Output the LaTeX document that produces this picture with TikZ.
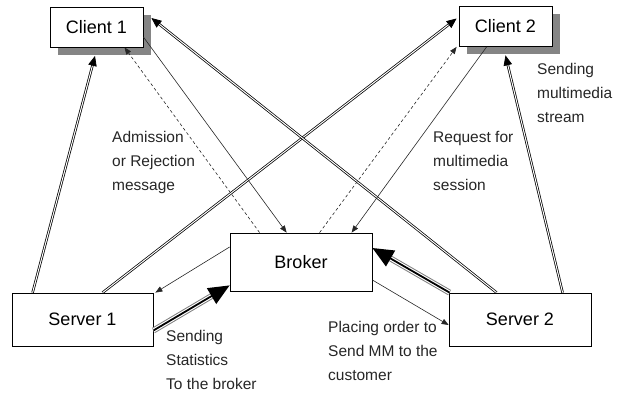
\documentclass[tikz,border=0pt]{standalone}
\usepackage{fontspec}
\setmainfont{Liberation Sans}
\usetikzlibrary{arrows.meta,shadows}

\begin{document}
\begin{tikzpicture}[x=1pt,y=-1pt,
  box/.style={draw=black, line width=0.8pt, fill=white, inner sep=0pt,
    font=\fontsize{18}{20}\selectfont},
  clientbox/.style={box, minimum width=93pt, minimum height=40pt,
    drop shadow={shadow xshift=7.5pt, shadow yshift=-7.5pt, fill=black!48, opacity=1}},
  serverbox/.style={box, minimum width=141pt, minimum height=53pt},
  lbl/.style={anchor=north west, inner sep=0pt, align=left, text=black!85,
    font=\fontsize{15.5}{24}\selectfont},
  dbl/.style={draw=black, double=white, double distance=1pt, line width=0.75pt,
    -{Triangle[length=10pt,width=8.5pt]}},
  thinarrow/.style={draw=black!85, line width=0.6pt, -{Triangle[length=7pt,width=5.5pt]}},
  dashedarrow/.style={thinarrow, dash pattern=on 3pt off 2.5pt},
  heavy/.style={draw=black, line width=1.8pt, -{Triangle[length=21pt,width=18pt]},
    preaction={draw, black!50, line width=6pt, shorten >=14pt, -},
    preaction={draw, white, line width=4pt, shorten >=14pt, -}}
]
\useasboundingbox (0,0) rectangle (625,394);

% boxes
\node[clientbox] (c1) at (96.5,27) {Client 1};
\node[clientbox] (c2) at (505.5,26.5) {Client 2};
\node[box, minimum width=142pt, minimum height=58pt] (br) at (301,262) {Broker};
\node[serverbox] (s1) at (82.5,319.5) {Server 1};
\node[serverbox, minimum width=142pt] (s2) at (520,319.5) {Server 2};

% multimedia streams from the servers to the clients
\draw[dbl] ([xshift=21pt]s1.north west) -- ([xshift=-1.5pt,yshift=-8.5pt]c1.south);
\draw[dbl] ([xshift=91pt]s1.north west) -- ([xshift=-2pt,yshift=8pt]c2.west);
\draw[dbl] ([xshift=48pt]s2.north west) -- ([xshift=8pt,yshift=9pt]c1.east);
\draw[dbl] ([xshift=114pt]s2.north west) -- ([yshift=-8.5pt]c2.south);

% requests and admission answers between clients and broker
\draw[dashedarrow] ([xshift=30pt]br.north west) -- ([xshift=28pt]c1.south);
\draw[thinarrow] ([yshift=-10pt]c1.east) -- ([xshift=57pt]br.north west);
\draw[dashedarrow] ([xshift=90pt]br.north west) -- ([xshift=-2pt]c2.south west);
\draw[thinarrow] ([xshift=28pt]c2.south west) -- ([xshift=122pt]br.north west);

% broker and servers
\draw[thinarrow] ([yshift=15pt]br.west) -- ([xshift=2pt]s1.north east);
\draw[heavy] ([yshift=-11pt]s1.east) -- ([yshift=6pt]br.south west);
\draw[heavy] ([xshift=1pt]s2.north west) -- ([yshift=14pt]br.east);
\draw[thinarrow] ([yshift=-18pt]br.east) -- ([yshift=-5.5pt]s2.west);

% labels
\node[lbl] (l1) at (112,131) {Admission\\or Rejection\\message};
\node[lbl] (l2) at (433,131) {Request for\\multimedia\\session};
\node[lbl] (l3) at (537,63) {Sending\\multimedia\\stream};
\node[lbl] (l4) at (166,330) {Sending\\Statistics\\To the broker};
\node[lbl] (l5) at (328,321) {Placing order to\\Send MM to the\\customer};
\end{tikzpicture}
\end{document}
